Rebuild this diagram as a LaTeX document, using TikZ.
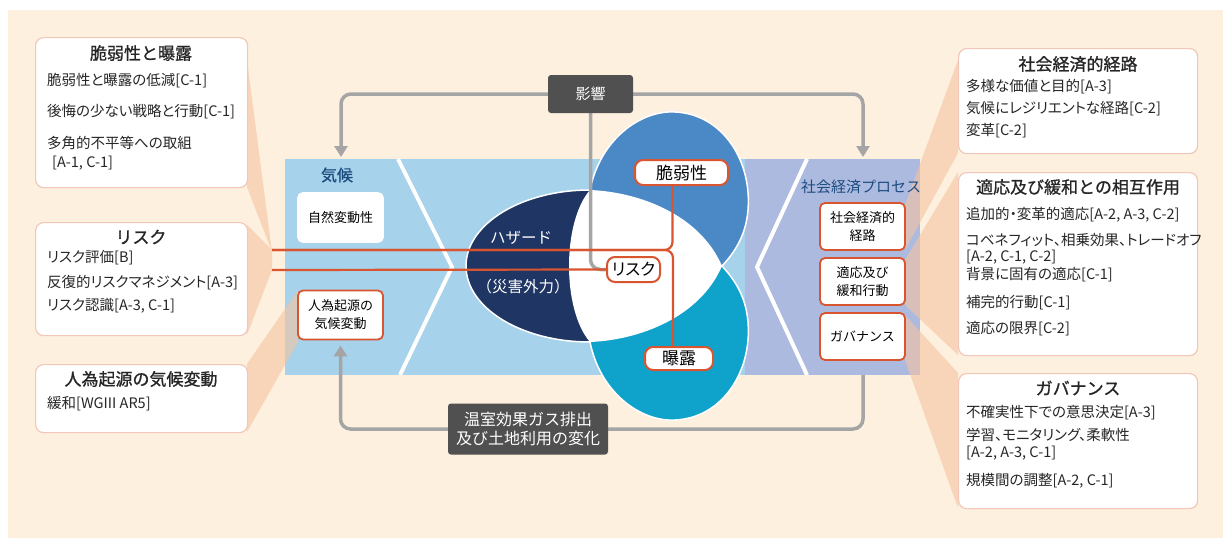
\documentclass[tikz,border=0pt]{standalone}
\usepackage{fontspec}
\setmainfont{Noto Sans CJK JP}
\newfontfamily\headfont[FakeBold=1]{Noto Sans CJK JP}
\newfontfamily\propfont[RawFeature=+palt]{Noto Sans CJK JP}
\usetikzlibrary{arrows.meta,calc,positioning}

\definecolor{cream}{HTML}{FDF0DF}
\definecolor{panelblue}{HTML}{A6D2EB}
\definecolor{panellav}{HTML}{ADBADF}
\definecolor{navy}{HTML}{1F3563}
\definecolor{vulblue}{HTML}{4A89C6}
\definecolor{expcyan}{HTML}{0FA3CC}
\definecolor{riskred}{HTML}{D95530}
\definecolor{linegrey}{HTML}{A5A5A5}
\definecolor{darkgrey}{HTML}{505050}
\definecolor{boxpink}{HTML}{F2C7BA}
\definecolor{peach}{HTML}{F6C3A0}
\definecolor{labelblue}{HTML}{1D4C80}

\pgfdeclarelayer{back}
\pgfdeclarelayer{mid}
\pgfsetlayers{back,mid,main}

\begin{document}
\begin{tikzpicture}[x=1pt, y=-1pt, >={Triangle[width=13pt,length=11pt]}]
        \tikzset{
                infobox/.style  = {draw=boxpink, line width=1.2pt, fill=white, rounded corners=8pt,
                                anchor=north west, inner sep=0},
                headtxt/.style  = {font=\headfont\fontsize{17}{20}\selectfont, text=black!85, inner sep=0},
                bodytxt/.style  = {font=\propfont\fontsize{14.5}{19}\selectfont, align=left, anchor=north west,
                                inner sep=0, text=black!85},
                redbox/.style   = {draw=riskred, line width=1.8pt, fill=white, rounded corners=5pt, align=center,
                                minimum width=85pt, minimum height=49pt, inner sep=1pt,
                                font=\fontsize{13}{18}\selectfont},
                tag/.style      = {draw=riskred, line width=2pt, fill=white, rounded corners=8pt,
                                minimum height=25pt, inner sep=2pt, font=\fontsize{17}{20}\selectfont},
                darkbox/.style  = {fill=darkgrey, text=white, rounded corners=3pt, align=center},
                greyline/.style = {draw=linegrey, line width=3.5pt, rounded corners=10pt},
                redline/.style  = {draw=riskred, line width=2.2pt, rounded corners=8pt},
                wedge/.style    = {fill=peach, opacity=0.6}
        }
        \useasboundingbox (0,0) rectangle (1223,538);

        % boxes on the left
        \node[infobox, minimum width=212pt, minimum height=150pt] (vulbox) at (35,37) {};
        \node[headtxt] (vulhead) at (141,53) {脆弱性と曝露};
        \node[bodytxt] (vulbody) at (47,72.5) {脆弱性と曝露の低減[C-1]\\[12pt]後悔の少ない戦略と行動[C-1]\\[13pt]多角的不平等への取組\\[0pt]\hspace*{5pt}[A-1, C-1]};

        \node[infobox, minimum width=212pt, minimum height=113pt] (riskbox) at (35,222) {};
        \node[headtxt] (riskhead) at (141,237) {リスク};
        \node[bodytxt] (riskbody) at (47,250.5) {リスク評価[B]\\[6pt]反復的リスクマネジメント[A-3]\\[4pt]リスク認識[A-3, C-1]};

        \node[infobox, minimum width=212pt, minimum height=68pt] (anthbox) at (35,364) {};
        \node[headtxt] (anthhead) at (141,379) {人為起源の気候変動};
        \node[bodytxt] (anthbody) at (47,396.5) {緩和[WGIII AR5]};

        % boxes on the right
        \node[infobox, minimum width=239pt, minimum height=105pt] (pathbox) at (958,48) {};
        \node[headtxt] (pathhead) at (1078,64) {社会経済的経路};
        \node[bodytxt] (pathbody) at (966,79.5) {多様な価値と目的[A-3]\\[3pt]気候にレジリエントな経路[C-2]\\[3pt]変革[C-2]};

        \node[infobox, minimum width=239pt, minimum height=183pt] (adaptbox) at (958,172) {};
        \node[headtxt] (adapthead) at (1078,187) {適応及び緩和との相互作用};
        \node[bodytxt] (adaptbody) at (966,207.5) {追加的・変革的適応[A-2, A-3, C-2]\\[7pt]コベネフィット、相乗効果、トレードオフ\\[-3pt]{}[A-2, C-1, C-2]\\[-1pt]背景に固有の適応[C-1]\\[9pt]補完的行動[C-1]\\[7pt]適応の限界[C-2]};

        \node[infobox, minimum width=239pt, minimum height=135pt] (govbox) at (958,373) {};
        \node[headtxt] (govhead) at (1078,388) {ガバナンス};
        \node[bodytxt] (govbody) at (966,405.5) {不確実性下での意思決定[A-3]\\[4pt]学習、モニタリング、柔軟性\\[-2pt]{}[A-2, A-3, C-1]\\[9pt]規模間の調整[A-2, C-1]};

        % climate and socio-economic panels
        \node[text=labelblue, font=\headfont\fontsize{16}{18}\selectfont] (climlab) at (337,175) {気候};
        \node[redbox, draw=white] (natvar) at (340.5,217.5) {自然変動性};
        \node[redbox] (anth) at (340.5,315) {人為起源の\\気候変動};

        \node[text=labelblue, font=\fontsize{15}{18}\selectfont] (soclab) at (861,187) {社会経済プロセス};
        \node[redbox, minimum height=47pt] (socpath) at (862.5,226.5) {社会経済的\\経路};
        \node[redbox, minimum height=47pt] (adapt) at (862.5,281.5) {適応及び\\緩和行動};
        \node[redbox, minimum height=47pt] (gov) at (862.5,336.5) {ガバナンス};

        % hazard, vulnerability, exposure, risk
        \node[text=white, font=\fontsize{15.5}{18}\selectfont] (haz) at (521,238) {ハザード};
        \node[text=white, font=\fontsize{15.5}{18}\selectfont] (hazsub) at (523,287) {（災害外力）};
        \node[tag, minimum width=93pt] (vul) at (681.5,172.5) {脆弱性};
        \node[tag, minimum width=68pt, minimum height=23pt] (exp) at (679,358.5) {曝露};
        \node[tag, minimum width=53pt, font=\propfont\fontsize{16.5}{20}\selectfont] (risk) at (633.5,269.5) {リスク};

        % impacts and emissions
        \node[darkbox, minimum width=85pt, minimum height=38pt, font=\fontsize{15}{18}\selectfont] (imp) at (590.5,94) {影響};
        \node[darkbox, minimum width=160pt, minimum height=51pt, font=\fontsize{16}{19}\selectfont] (ghg) at (528,429) {温室効果ガス排出\\及び土地利用の変化};

        \coordinate (climtop) at (341,157);
        \coordinate (soctop) at (863,157);
        \coordinate (socbot) at (863,375);
        \coordinate (redA) at (272,250);
        \coordinate (redB) at (272,270);

        % connectors
        \begin{pgfonlayer}{mid}
                \draw[greyline, ->] (imp.west) -| (climtop);
                \draw[greyline, ->] (imp.east) -| (soctop);
                \draw[greyline] (imp.south) |- (risk.west);
                \draw[greyline] (socbot) |- (ghg.east);
                \draw[greyline, ->, shorten >=5pt] (ghg.west) -| (anth.south);

                \draw[redline] (redB) -- (risk.west);
                \draw[redline] ([xshift=-9pt]vul.south) |- (redA);
                \draw[redline] ([xshift=-6pt]exp.north) |- (redA);
        \end{pgfonlayer}

        % backdrop, panels and ellipses
        \begin{pgfonlayer}{back}
                \fill[white] (0,0) rectangle (1223,538);
                \fill[cream] (8,10) rectangle (1223,538);

                \fill[wedge] (247,60) -- (272,252) -- (247,187) -- cycle;
                \fill[wedge] (247,225) -- (272,250) -- (272,270) -- (247,335) -- cycle;

                \fill[panelblue] (285,159) rectangle (745,375);
                \fill[panellav] (745,159) rectangle (920,375);
                \draw[white, line width=4pt] (398,159) -- (452,267) -- (400,375);
                \draw[white, line width=4pt] (807,159) -- (757,267) -- (807,375);

                \filldraw[fill=navy, draw=white, line width=1.5pt] (590,266) ellipse [x radius=124, y radius=76];
                \filldraw[fill=vulblue, draw=white, line width=1.5pt] (590,190)
                        .. controls (600,140) and (640,110) .. (675,112)
                        .. controls (722,114) and (752,160) .. (748,210)
                        .. controls (746,235) and (735,252) .. (722,266) -- cycle;
                \filldraw[fill=expcyan, draw=white, line width=1.5pt] (590,342)
                        .. controls (600,392) and (640,422) .. (675,420)
                        .. controls (722,418) and (752,372) .. (748,322)
                        .. controls (746,297) and (735,280) .. (722,266) -- cycle;
                \fill[white] (590,190)
                        .. controls (640,192) and (700,215) .. (722,266)
                        .. controls (700,317) and (640,340) .. (590,342)
                        .. controls (562,310) and (562,222) .. (590,190) -- cycle;

                \fill[wedge] (247,364) -- (298,290) -- (298,342) -- (247,432) -- cycle;
                \foreach \ya/\yb/\yc/\yd in {60/205/250/153, 172/260/305/355, 373/315/360/508}
                        \fill[wedge] (958,\ya) -- (905,\yb) -- (905,\yc) -- (958,\yd) -- cycle;
        \end{pgfonlayer}
\end{tikzpicture}
\end{document}
